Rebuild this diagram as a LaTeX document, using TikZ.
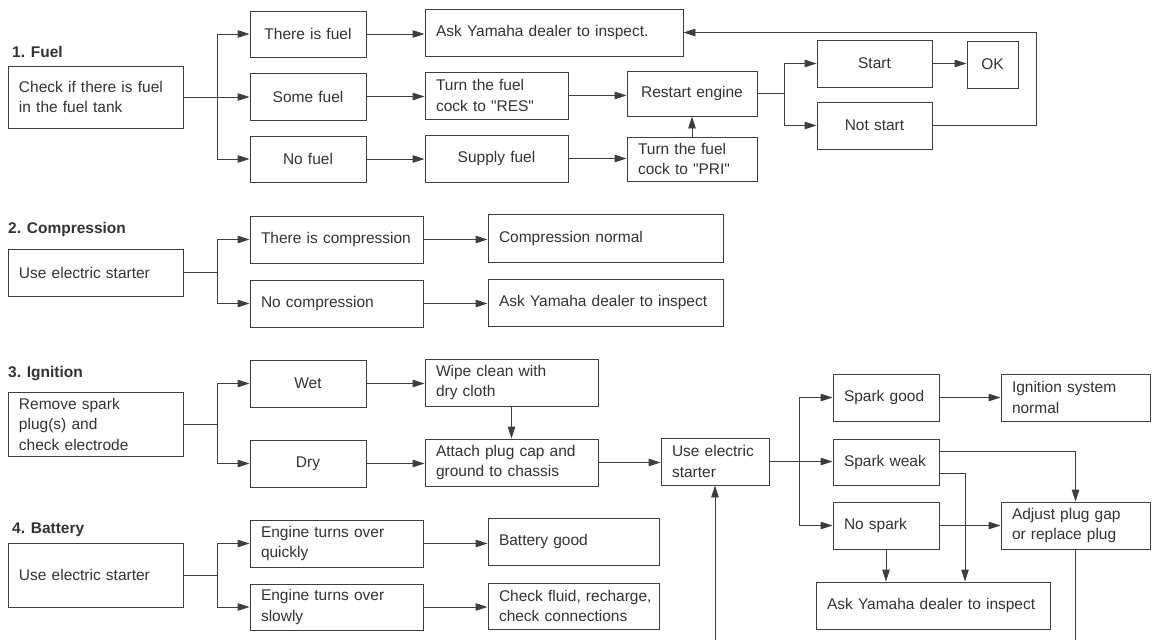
\documentclass[tikz,border=0pt]{standalone}
\usepackage{fontspec}
\setmainfont{Liberation Sans}
\newfontfamily\plainsf{Liberation Sans}
\usetikzlibrary{arrows.meta,calc}
\definecolor{linec}{HTML}{3E3E3E}
\definecolor{txtc}{HTML}{333333}
\newcommand\bxpad{11}
\newcommand\bx[7]{%
  \pgfmathsetmacro\bxw{#4-#2}%
  \pgfmathsetmacro\bxh{#5-#3}%
  \pgfmathsetmacro\bxtw{#4-#2-2*\bxpad}%
  \pgfmathsetmacro\bxcx{(#2+#4)/2}%
  \pgfmathsetmacro\bxcy{(#3+#5)/2}%
  \node[box, minimum width=\bxw pt, minimum height=\bxh pt, text width=\bxtw pt, align=#6] (#1) at (\bxcx,\bxcy) {#7};}
\begin{document}
\begin{tikzpicture}[x=1pt,y=-1pt,
  box/.style={draw=linec, line width=0.9pt, inner xsep=\bxpad pt, inner ysep=0pt,
    font=\plainsf\fontsize{15.5}{20.5}\selectfont, text=txtc},
  arr/.style={draw=linec, line width=0.9pt, -{Triangle[length=12pt,width=7.5pt]}},
  ln/.style={draw=linec, line width=0.9pt},
  hd/.style={anchor=west, font=\plainsf\bfseries\fontsize{15.5}{18}\selectfont, text=txtc, inner sep=0pt}]
\useasboundingbox[fill=white] (0,0) rectangle (1152,640);

% headings
\node[hd] (h1) at (12,52) {1. Fuel};
\node[hd] (h2) at (8,229) {2. Compression};
\node[hd] (h3) at (8,374) {3. Ignition};
\node[hd] (h4) at (12,530) {4. Battery};

% 1. Fuel
\bx{chk}{8}{66}{183}{128}{left}{Check if there is fuel\\in the fuel tank}
\bx{tif}{250}{11}{366}{57}{center}{There is fuel}
\bx{smf}{250}{73}{366}{120}{center}{Some fuel}
\bx{nof}{250}{136}{366}{182}{center}{No fuel}
\bx{askf}{425}{9}{683}{56}{left}{Ask Yamaha dealer to inspect.}
\bx{res}{425}{72}{568}{119}{left}{Turn the fuel\\cock to "RES"}
\bx{sup}{425}{135}{568}{182}{center}{Supply fuel}
\bx{rst}{627}{71}{757}{116}{center}{Restart engine}
\bx{pri}{627}{137}{757}{181}{left}{Turn the fuel\\cock to "PRI"}
\bx{sta}{817}{40}{932}{87}{center}{Start}
\bx{ok}{967}{41}{1018}{88}{center}{OK}
\bx{nst}{817}{102}{932}{149}{center}{Not start}

% 2. Compression
\bx{use2}{8}{249}{183}{296}{left}{Use electric starter}
\bx{tic}{250}{216}{423}{263}{left}{There is compression}
\bx{noc}{250}{280}{423}{327}{left}{No compression}
\bx{cn}{488}{214}{723}{262}{left}{Compression normal}
\bx{ask2}{488}{279}{723}{326}{left}{Ask Yamaha dealer to inspect}

% 3. Ignition
\bx{rem}{8}{392}{183}{456}{left}{Remove spark\\plug(s) and\\check electrode}
\bx{wet}{250}{360}{366}{407}{center}{Wet}
\bx{dry}{250}{440}{366}{487}{center}{Dry}
\bx{wipe}{425}{359}{598}{406}{left}{Wipe clean with\\dry cloth}
\bx{att}{425}{439}{598}{486}{left}{Attach plug cap and\\ground to chassis}
\bx{ues}{661}{438}{769}{485}{left}{Use electric\\starter}
\bx{sg}{833}{374}{939}{421}{left}{Spark good}
\bx{sw}{833}{439}{939}{485}{left}{Spark weak}
\bx{ns}{833}{502}{939}{549}{left}{No spark}
\bx{isn}{1001}{374}{1150}{421}{left}{Ignition system\\normal}
\bx{adj}{1001}{502}{1150}{549}{left}{Adjust plug gap\\or replace plug}
\bx{ask3}{816}{582}{1050}{629}{left}{Ask Yamaha dealer to inspect}

% 4. Battery
\bx{use4}{8}{543}{183}{607}{left}{Use electric starter}
\bx{etq}{250}{520}{423}{567}{left}{Engine turns over\\quickly}
\bx{ets}{250}{584}{423}{630}{left}{Engine turns over\\slowly}
\bx{bg}{488}{518}{659}{565}{left}{Battery good}
\bx{cf}{488}{583}{659}{629}{left}{\mbox{Check fluid, recharge,}\\check connections}

% branch coordinates
\coordinate (b1) at (217,0);
\coordinate (b5) at (784,0);
\coordinate (b6) at (799,0);
\coordinate (lp) at (1036,0);
\coordinate (c965) at (965,0);
\coordinate (bot) at (0,640);

% Fuel connectors
\draw[ln] (chk.east) -- (chk.east -| b1);
\draw[arr] (chk.east -| b1) |- (tif.west);
\draw[arr] (chk.east -| b1) |- (nof.west);
\draw[arr] (chk.east -| b1) -- (chk.east -| smf.west);
\draw[arr] (tif.east) -- (tif.east -| askf.west);
\draw[arr] (smf.east) -- (smf.east -| res.west);
\draw[arr] (nof.east) -- (nof.east -| sup.west);
\draw[arr] (res.east) -- (res.east -| rst.west);
\draw[arr] (sup.east) -- (sup.east -| pri.west);
\draw[arr] (pri.north) -- (pri.north |- rst.south);
\draw[ln] (rst.east) -- (rst.east -| b5);
\draw[arr] (rst.east -| b5) |- (sta.west);
\draw[arr] (rst.east -| b5) |- (nst.west);
\draw[arr] (sta.east) -- (sta.east -| ok.west);
\draw[arr] (nst.east) -- (nst.east -| lp) |- (askf.east);

% Compression connectors
\draw[ln] (use2.east) -- (use2.east -| b1);
\draw[arr] (use2.east -| b1) |- (tic.west);
\draw[arr] (use2.east -| b1) |- (noc.west);
\draw[arr] (tic.east) -- (tic.east -| cn.west);
\draw[arr] (noc.east) -- (noc.east -| ask2.west);

% Ignition connectors
\draw[ln] (rem.east) -- (rem.east -| b1);
\draw[arr] (rem.east -| b1) |- (wet.west);
\draw[arr] (rem.east -| b1) |- (dry.west);
\draw[arr] (wet.east) -- (wet.east -| wipe.west);
\draw[arr] (dry.east) -- (dry.east -| att.west);
\draw[arr] (wipe.south) -- (att.north);
\draw[arr] (att.east) -- (att.east -| ues.west);
\draw[ln] (ues.east) -- (ues.east -| b6);
\draw[arr] (ues.east -| b6) |- (sg.west);
\draw[arr] (ues.east -| b6) -- (ues.east -| sw.west);
\draw[arr] (ues.east -| b6) |- (ns.west);
\draw[arr] (sg.east) -- (sg.east -| isn.west);
\coordinate (swa) at ($(sw.north east)!0.28!(sw.south east)$);
\coordinate (swb) at ($(sw.north east)!0.74!(sw.south east)$);
\draw[arr] (swa) -| (adj.north);
\draw[arr] (swb) -| (c965 |- ask3.north);
\draw[arr] (ns.east) -- (ns.east -| adj.west);
\draw[arr] (ns.south) -- (ns.south |- ask3.north);
\draw[ln] (adj.south) -- (adj.south |- bot);
\draw[arr] (ues.south |- bot) -- (ues.south);

% Battery connectors
\draw[ln] (use4.east) -- (use4.east -| b1);
\draw[arr] (use4.east -| b1) |- (etq.west);
\draw[arr] (use4.east -| b1) |- (ets.west);
\draw[arr] (etq.east) -- (etq.east -| bg.west);
\draw[arr] (ets.east) -- (ets.east -| cf.west);
\end{tikzpicture}
\end{document}
